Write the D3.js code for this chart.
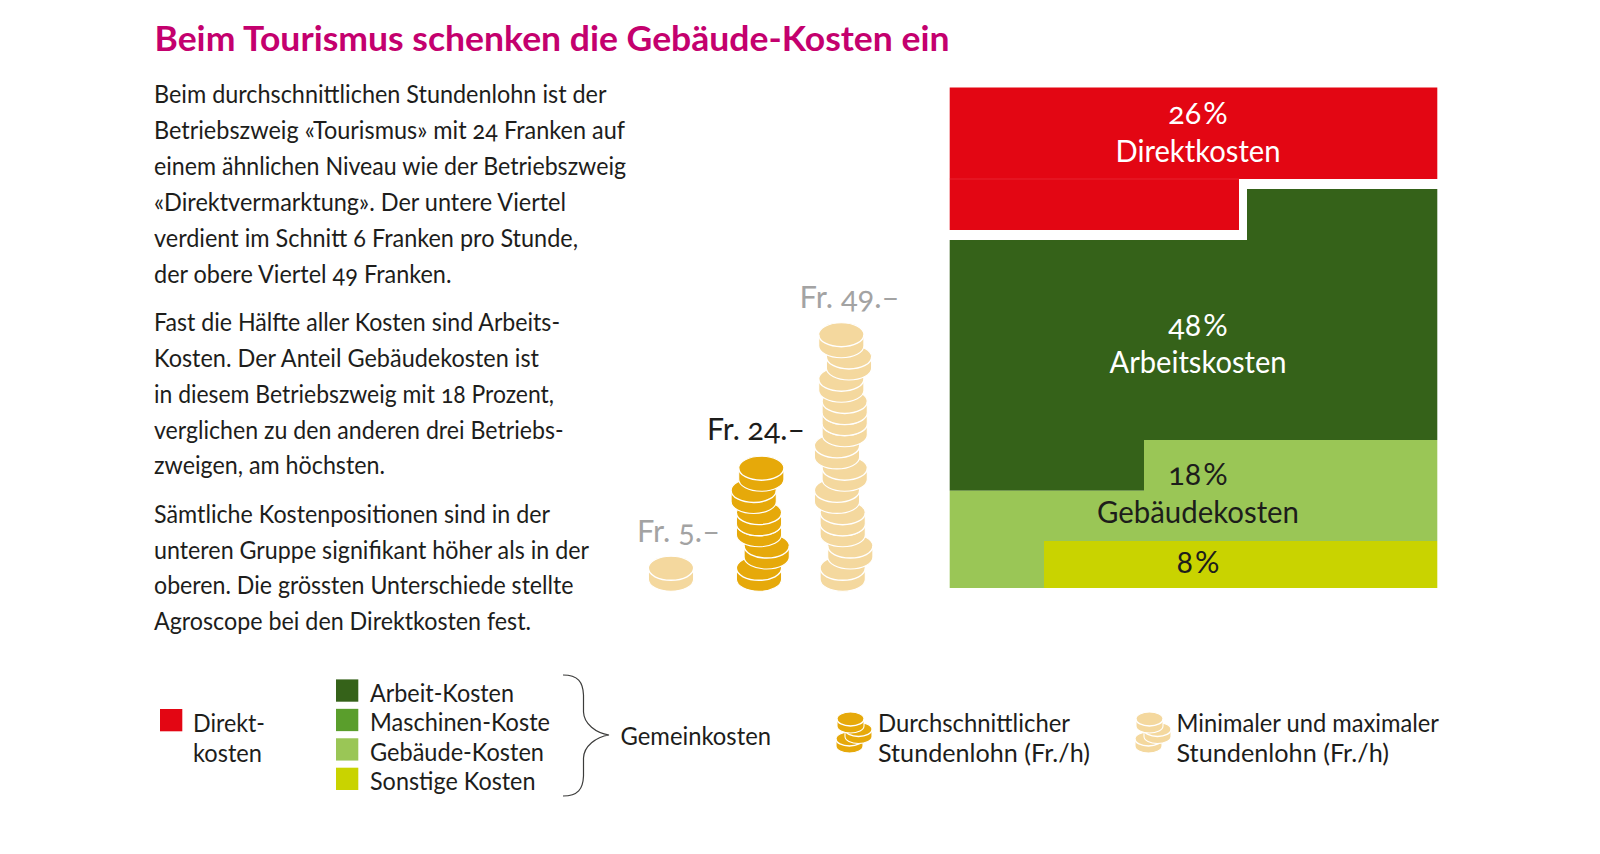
<!DOCTYPE html>
<html lang="de">
<head>
<meta charset="utf-8">
<title>Beim Tourismus schenken die Gebäude-Kosten ein</title>
<script src="https://cdn.jsdelivr.net/npm/d3@7/dist/d3.min.js"></script>
<style>
html,body{margin:0;padding:0;background:#fff}
svg{display:block}
text{font-family:Lato,"Open Sans",sans-serif;font-variant-numeric:oldstyle-nums;font-kerning:normal}
</style>
</head>
<body>
<svg id="chart" width="1600" height="854" viewBox="0 0 1600 854"></svg>
<script>
// ---------- data ----------
const costCategories = ["Direktkosten", "Arbeitskosten", "Gebäudekosten", "Sonstige"];
const costShares = [26, 48, 18, 8];
const costColours = ["#e30613", "#356219", "#9ac656", "#c9d300"];
const wageLabels = ["Minimal", "Durchschnitt", "Maximal"];
const wageValues = [5, 24, 49];
const titleText = "Beim Tourismus schenken die Gebäude-Kosten ein";
const bodyLines = [
  "Beim durchschnittlichen Stundenlohn ist der",
  "Betriebszweig «Tourismus» mit 24 Franken auf",
  "einem ähnlichen Niveau wie der Betriebszweig",
  "«Direktvermarktung». Der untere Viertel",
  "verdient im Schnitt 6 Franken pro Stunde,",
  "der obere Viertel 49 Franken.",
  "Fast die Hälfte aller Kosten sind Arbeits-",
  "Kosten. Der Anteil Gebäudekosten ist",
  "in diesem Betriebszweig mit 18 Prozent,",
  "verglichen zu den anderen drei Betriebs-",
  "zweigen, am höchsten.",
  "Sämtliche Kostenpositionen sind in der",
  "unteren Gruppe signifikant höher als in der",
  "oberen. Die grössten Unterschiede stellte",
  "Agroscope bei den Direktkosten fest."
];
const legendCommon = ["Arbeit-Kosten", "Maschinen-Koste", "Gebäude-Kosten", "Sonstige Kosten"];
const legendCommonColours = ["#356219", "#5a9e2c", "#9ac656", "#c9d300"];

// ---------- layout ----------
const svg = d3.select("#chart");
const ink = "#1d1d1b";
const gold = "#e6a90a", pale = "#f4d89e";

function label(x, y, str, size, opts = {}) {
  const t = svg.append("text").attr("x", x).attr("y", y).text(str)
    .attr("font-size", size).attr("fill", opts.fill || ink)
    .attr("font-weight", opts.weight || 400)
    .attr("text-anchor", opts.anchor || "start");
  if (opts.width) t.attr("textLength", opts.width).attr("lengthAdjust", "spacingAndGlyphs");
  return t;
}

// Title and body copy
label(154.5, 50.5, titleText, 35, {fill: "#c4006e", weight: 700, width: 795});
const bodyBase = [102.5, 138.5, 174.5, 210.5, 246.5, 282.5, 330.5, 366.5, 402.5, 438.5, 474, 522.5, 558.5, 594, 630];
const bodyEnd = [606.5, 625, 626, 566, 578, 451.5, 560, 539, 554, 563.5, 385, 550, 589, 573.5, 531];
bodyLines.forEach((l, i) => label(154, bodyBase[i], l, 24.5, {width: bodyEnd[i] - 154}));

// Stepped cost block: ten rows of 10 % each, filled row by row
const rowY = d3.scaleLinear().domain([0, 2, 3, 7, 8, 9, 10]).range([87.5, 189, 240, 440, 490.7, 541, 588]);
const colX = d3.scaleLinear().domain([0, .2, .4, .6, 1]).range([949.7, 1044, 1144, 1243, 1437.3]);
const gapY = 10, gapX = 4;

function edge(cum) {                 // boundary of a cumulative share in row / column terms
  const u = cum / 10, row = Math.min(Math.floor(u), 9), frac = u - row;
  return {row, frac};
}
const cum = d3.cumsum(costShares);
costShares.forEach((v, i) => {
  const start = i ? edge(cum[i - 1]) : {row: 0, frac: 0};
  const end = edge(cum[i]);
  const atEnd = i === costShares.length - 1;
  const topGap = i === 1, botGap = i === 0;
  const xStart = colX(start.frac) + (topGap ? gapX : 0);
  const xEnd = colX(end.frac) - (botGap ? gapX : 0);
  const by = r => rowY(r) - (botGap ? gapY : 0);
  const p = d3.path();
  const yT0 = rowY(start.row), yT1 = rowY(start.row + 1);
  p.moveTo(colX(0), i === 0 ? yT0 : yT1);
  if (i) { p.lineTo(xStart, yT1); p.lineTo(xStart, yT0); }
  p.lineTo(colX(1), yT0);
  if (atEnd) {
    p.lineTo(colX(1), rowY(10)); p.lineTo(colX(0), rowY(10));
  } else {
    p.lineTo(colX(1), by(end.row)); p.lineTo(xEnd, by(end.row));
    p.lineTo(xEnd, by(end.row + 1)); p.lineTo(colX(0), by(end.row + 1));
  }
  p.closePath();
  svg.append("path").attr("d", p.toString()).attr("fill", costColours[i]);
  if (i === 0) {   // faint seam visible across the red block
    svg.append("line").attr("x1", colX(0)).attr("x2", xEnd)
      .attr("y1", by(end.row)).attr("y2", by(end.row))
      .attr("stroke", "#ec3b46").attr("stroke-width", 0.8).attr("opacity", .7);
  }
});
const blockCx = 1198;
const blockLabels = [
  {row: .72, pct: 0, name: costCategories[0], fill: "#fff", nameRow: 1.46, w: 165},
  {row: 4.91, pct: 1, name: costCategories[1], fill: "#fff", nameRow: 5.66, w: 177},
  {row: 7.89, pct: 2, name: costCategories[2], fill: ink, nameRow: 8.64, w: 202},
  {row: 9.68, pct: 3, name: null, fill: ink}
];
blockLabels.forEach(b => {
  label(blockCx, rowY(b.row), costShares[b.pct] + "\u200a%", 30.5, {fill: b.fill, anchor: "middle"});
  if (b.name) label(blockCx, rowY(b.nameRow), b.name, 30, {fill: b.fill, anchor: "middle", width: b.w});
});

// Coin stacks: coin count follows the wage, roughly one coin per Fr. 3.80
const perCoin = 3.8, coinR = 22.6, coinRy = 12, coinT = 11;
const stackX = d3.scaleOrdinal().domain(wageLabels).range([671, 759, 842.7]);
const levelY = d3.scaleLinear().domain([0, 21]).range([580.3, 346.7]);
const stackRise = {
  Minimal: [0],
  Durchschnitt: [0, 2, 4, 5, 7, 9],
  Maximal: [0, 2, 4, 5, 7, 9, 11, 13, 14, 15, 17, 19, 21]
};
const stackShift = {
  Minimal: [0],
  Durchschnitt: [0, 7.7, 0, 0, -5.3, 2.3],
  Maximal: [0, 7.6, 0, 0, -5.7, 2, -5.7, 2, 2, 2, -1.4, 6.3, -1.4]
};
function coin(g, cx, arcY, rx, ry, t, fill) {
  const cy = arcY - ry;
  g.append("path")
    .attr("d", `M${cx - rx},${cy}A${rx},${ry} 0 0 1 ${cx + rx},${cy}V${cy + t}A${rx},${ry} 0 0 1 ${cx - rx},${cy + t}Z`)
    .attr("fill", fill).attr("stroke", "#fff").attr("stroke-width", 1.1);
  g.append("path")
    .attr("d", `M${cx - rx},${cy}A${rx},${ry} 0 0 0 ${cx + rx},${cy}`)
    .attr("fill", "none").attr("stroke", "#fff").attr("stroke-width", 1.4);
}
const stacks = svg.append("g");
wageLabels.forEach((w, i) => {
  const n = Math.round(wageValues[i] / perCoin);
  const fill = i === 1 ? gold : pale;
  d3.range(n).forEach(k => {
    coin(stacks, stackX(w) + stackShift[w][k], levelY(stackRise[w][k]), coinR, coinRy, coinT, fill);
  });
});
const wageText = [[637, 541.5, 83, "#a3a3a3"], [707, 440, 98, ink], [799.5, 308, 100, "#a3a3a3"]];
wageValues.forEach((v, i) => {
  const [x, y, wd, col] = wageText[i];
  label(x, y, `Fr. ${v}.–`, 31, {fill: col, width: wd});
});

// Legend
const legendSize = 24.5;
svg.append("rect").attr("x", 160).attr("y", 709).attr("width", 22.3).attr("height", 22.3).attr("fill", costColours[0]);
label(193, 731.5, "Direkt-", legendSize, {width: 72});
label(193, 761.5, "kosten", legendSize, {width: 69});
const legendY = d3.scalePoint().domain(legendCommon).range([701.7, 790]);
const legendEnd = [514, 550, 544, 535.5];
legendCommon.forEach((l, i) => {
  svg.append("rect").attr("x", 336).attr("y", legendY(l) - 22.3).attr("width", 22.3).attr("height", 22.3)
    .attr("fill", legendCommonColours[i]);
  label(370, legendY(l) + .3, l, legendSize, {width: legendEnd[i] - 370});
});
const brace = d3.path();
brace.moveTo(563, 675);
brace.bezierCurveTo(578, 675, 583, 682, 583.5, 695);
brace.lineTo(583.5, 712);
brace.bezierCurveTo(584, 724, 596, 733, 609, 735);
brace.bezierCurveTo(596, 737, 584, 746, 583.5, 758);
brace.lineTo(583.5, 776);
brace.bezierCurveTo(583, 789, 578, 796, 563, 796);
svg.append("path").attr("d", brace.toString()).attr("fill", "none").attr("stroke", "#3c3c3b").attr("stroke-width", 1.2);
label(620.5, 744.5, "Gemeinkosten", legendSize, {width: 150.5});

function icon(x0, fill) {
  const g = svg.append("g");
  coin(g, x0, 746, 13.5, 7, 7, fill);
  coin(g, x0 + 9, 736.5, 13.5, 7, 7, fill);
  coin(g, x0 + 1, 726, 13.5, 7, 7, fill);
}
icon(849.5, gold);
icon(1148.5, pale);
label(878, 732, "Durchschnittlicher", legendSize, {width: 192});
label(878, 762, "Stundenlohn (Fr./h)", legendSize, {width: 212});
label(1176.5, 732, "Minimaler und maximaler", legendSize, {width: 262.5});
label(1176.5, 762, "Stundenlohn (Fr./h)", legendSize, {width: 212.5});
</script>
</body>
</html>
